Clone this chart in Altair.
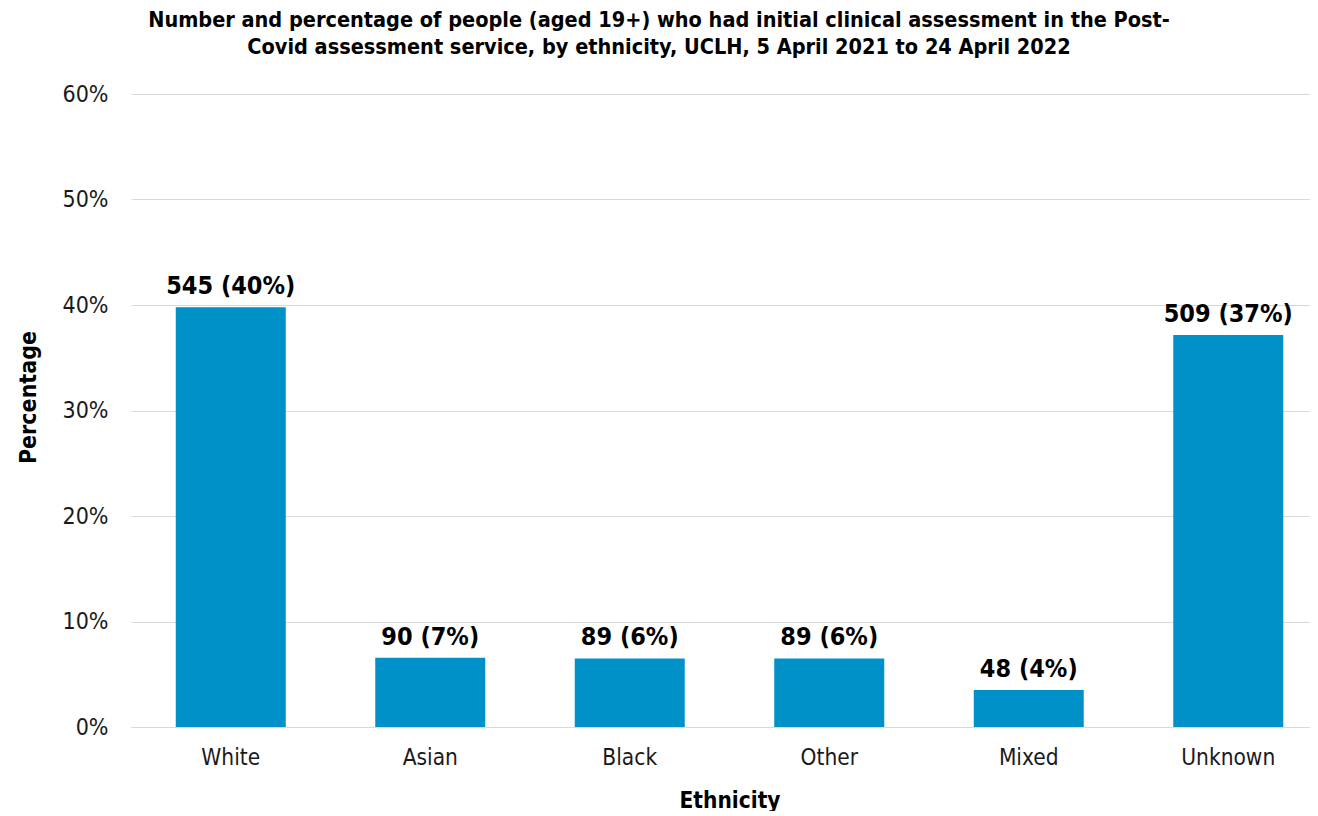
import altair as alt
import pandas as pd

categories = ["White", "Asian", "Black", "Other", "Mixed", "Unknown"]
counts = [545, 90, 89, 89, 48, 509]
y_ticks = [0, 0.1, 0.2, 0.3, 0.4, 0.5, 0.6]
title_lines = [
    "Number and percentage of people (aged 19+) who had initial clinical assessment in the Post-",
    "Covid assessment service, by ethnicity, UCLH, 5 April 2021 to 24 April 2022",
]

total = sum(counts)
df = pd.DataFrame({"Ethnicity": categories, "Count": counts})
df["Share"] = df["Count"] / total
df["Label"] = [f"{c} ({round(c / total * 100)}%)" for c in counts]

FONT = "DejaVu Sans Condensed"
TXT = "#1a1a1a"

x = alt.X(
    "Ethnicity:N",
    sort=categories,
    scale=alt.Scale(range=[0, 1197], paddingInner=0.4486, paddingOuter=0.2243),
    axis=alt.Axis(
        title="Ethnicity",
        labelAngle=0,
        ticks=False,
        domain=True,
        domainColor="#d9d9d9",
        domainWidth=1,
        labelPadding=19,
        labelFont=FONT,
        labelFontSize=22.5,
        labelColor=TXT,
        titleFont=FONT,
        titleFontSize=22.5,
        titleFontWeight="bold",
        titleColor="#000",
        titleY=80,
        titleBaseline="alphabetic",
        grid=False,
    ),
)
y = alt.Y(
    "Share:Q",
    scale=alt.Scale(domain=[0, 0.6], nice=False),
    axis=alt.Axis(
        title="Percentage",
        values=y_ticks,
        format=".0%",
        ticks=False,
        domain=False,
        grid=True,
        gridColor="#d9d9d9",
        gridWidth=1,
        labelPadding=23,
        labelFont=FONT,
        labelFontSize=23,
        labelColor=TXT,
        titleFont=FONT,
        titleFontSize=23,
        titleFontWeight="bold",
        titleColor="#000",
        titleAngle=270,
        titleX=-96,
        titleY=303,
        titleAlign="center",
        titleBaseline="alphabetic",
    ),
)

base = alt.Chart(df).encode(x=x, y=y)
bars = base.mark_bar(color="#0091C9")
text = base.mark_text(
    font=FONT, fontSize=25, fontWeight="bold", dy=-13, baseline="alphabetic", color="#000"
).encode(text="Label:N")

chart = (
    (bars + text)
    .properties(
        width=1179,
        height=633,
        autosize=alt.AutoSizeParams(type="none"),
        padding={"left": 123, "top": 86, "right": 0, "bottom": 84},
        title=alt.TitleParams(
            text=title_lines,
            font=FONT,
            fontSize=21.5,
            fontWeight="bold",
            color="#000",
            anchor="middle",
            dx=-61.5,
            lineHeight=27,
            offset=25,
        ),
    )
    .configure_view(stroke=None)
)

chart.save("out.html", embed_options={"renderer": "svg", "actions": False})
